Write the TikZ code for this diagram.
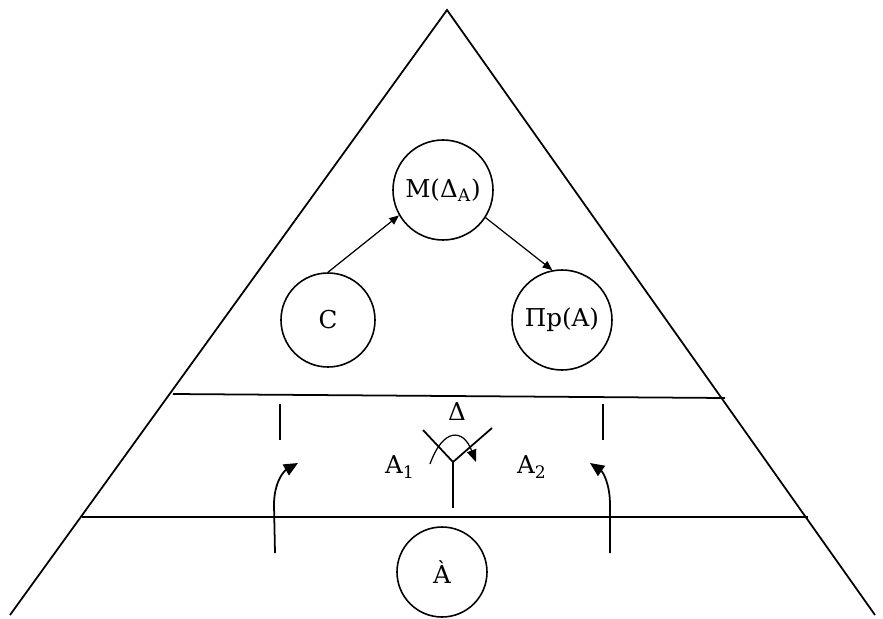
\documentclass[tikz,border=0pt]{standalone}
\usepackage{fontspec}
\setmainfont{DejaVu Serif}
\usetikzlibrary{arrows.meta}

\begin{document}
\begin{tikzpicture}[x=0.02cm, y=-0.02cm, line width=1pt,
    level/.style={circle, draw, line width=0.9pt, inner sep=1pt, font=\fontsize{14}{16}\selectfont},
    lbl/.style={inner sep=0pt, font=\fontsize{14}{16}\selectfont},
    conn/.style={-{Triangle[length=5.5pt, width=4.5pt]}, line width=0.7pt},
    flow/.style={-{Triangle[length=8pt, width=7pt]}, line width=1pt}]
    \path[use as bounding box] (0,0) rectangle (883,619);
    % pyramid
    \coordinate (apex) at (447,10);
    \coordinate (baseL) at (10,615);
    \coordinate (baseR) at (875,615);
    \draw (baseL) -- (apex) -- (baseR);
    \coordinate (upL) at (173,394);
    \coordinate (upR) at (725,398);
    \coordinate (loL) at (82,517);
    \coordinate (loR) at (808,517);
    \draw (upL) -- (upR);
    \draw (loL) -- (loR);
    % top level
    \node[level, minimum size=100*0.02cm] (m) at (443,190) {M(Δ\textsubscript{A})};
    \node[level, minimum size=94*0.02cm] (c) at (328,320) {C};
    \node[level, minimum size=100*0.02cm] (p) at (562,320) {Пр(A)};
    \draw[conn] (c.north) -- (m.210);
    \draw[conn] (m.-33) -- (p.101);
    % middle level
    \node[lbl] (delta) at (457,412) {Δ};
    \node[lbl] (a1) at (400,467) {A\textsubscript{1}};
    \node[lbl] (a2) at (532,467) {A\textsubscript{2}};
    \coordinate (fork) at (453,462);
    \coordinate (armL) at (423,430);
    \coordinate (armR) at (492,428);
    \coordinate (stem) at (453,508);
    \draw (armL) -- (fork) -- (armR);
    \draw (fork) -- (stem);
    \coordinate (arcS) at (430,464);
    \coordinate (arcE) at (476,462);
    \draw[conn, -{Triangle[length=7pt, width=5.5pt]}] (arcS) .. controls (443,428) and (463,428) .. (arcE);
    \coordinate (tickLa) at (280,404);
    \coordinate (tickLb) at (280,440);
    \coordinate (tickRa) at (603,404);
    \coordinate (tickRb) at (603,440);
    \draw (tickLa) -- (tickLb);
    \draw (tickRa) -- (tickRb);
    % bottom level
    \node[level, minimum size=90*0.02cm] (a) at (442,572) {À};
    \coordinate (inL) at (275,553);
    \coordinate (outL) at (298,463);
    \coordinate (inR) at (610,553);
    \coordinate (outR) at (590,463);
    \draw[flow] (inL) -- (274,505) .. controls (274,482) and (284,471) .. (outL);
    \draw[flow] (inR) -- (610,505) .. controls (610,484) and (603,472) .. (outR);
  \end{tikzpicture}
\end{document}
